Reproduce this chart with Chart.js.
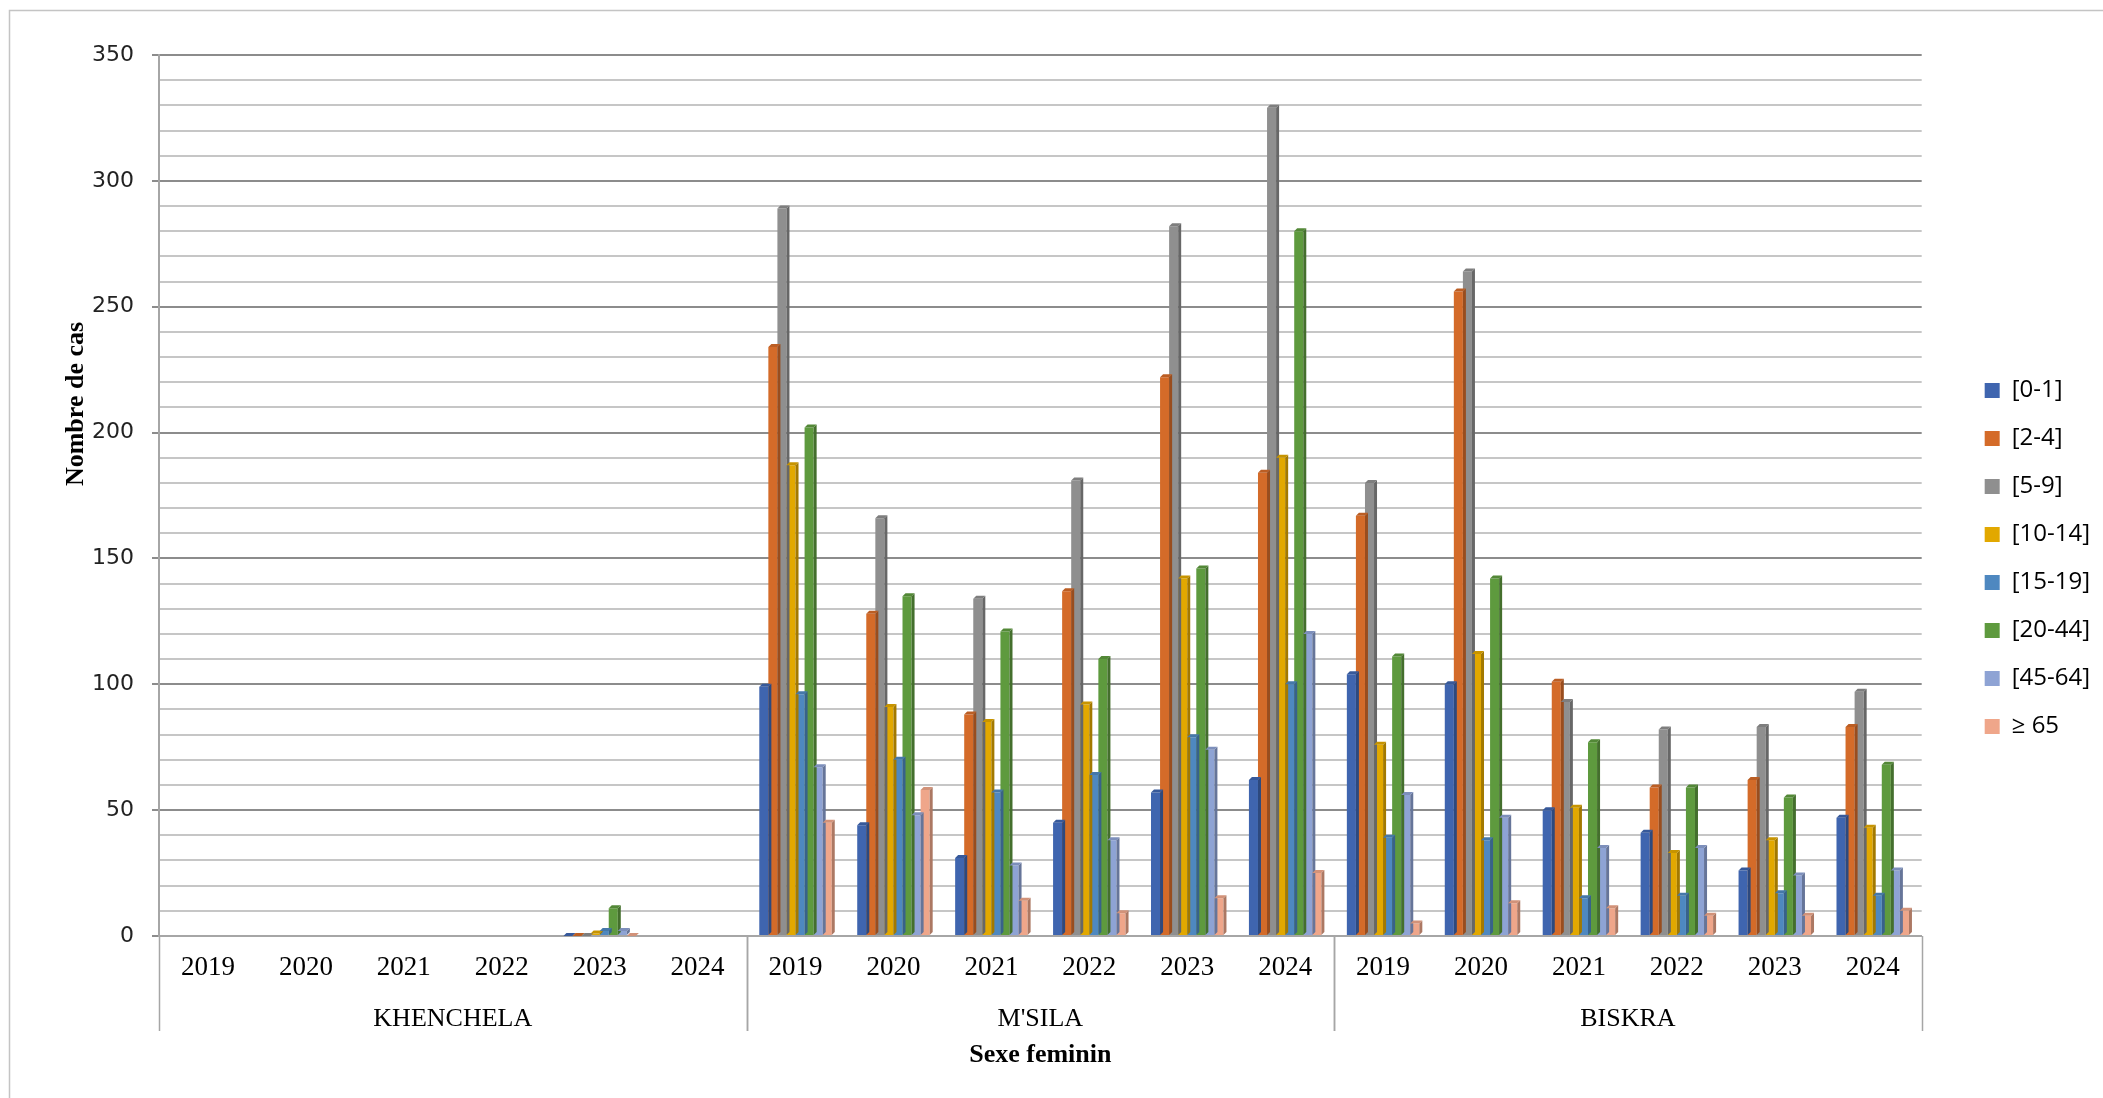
<!DOCTYPE html>
<html>
<head>
<meta charset="utf-8">
<script src="https://cdn.jsdelivr.net/npm/chart.js@4/dist/chart.umd.min.js"></script>
<style>
  html, body { margin: 0; padding: 0; background: #fff; }
  #wrap { width: 2103px; height: 1098px; }
</style>
</head>
<body>
<div id="wrap"><canvas id="c" width="2103" height="1098"></canvas></div>
<script>
// Wilayas and years on the two-level category axis
const regions = ['KHENCHELA', "M'SILA", 'BISKRA'];
const years = ['2019', '2020', '2021', '2022', '2023', '2024'];

// Age groups
const ageGroups = ['[0-1]', '[2-4]', '[5-9]', '[10-14]', '[15-19]', '[20-44]', '[45-64]', '≥ 65'];

// Cases per age group: KHENCHELA 2019-2024, M'SILA 2019-2024, BISKRA 2019-2024
const age0_1   = [null, null, null, null, 0, null,   99, 44, 31, 45, 57, 62,    104, 100, 50, 41, 26, 47];
const age2_4   = [null, null, null, null, 0, null,   234, 128, 88, 137, 222, 184, 167, 256, 101, 59, 62, 83];
const age5_9   = [null, null, null, null, 0, null,   289, 166, 134, 181, 282, 329, 180, 264, 93, 82, 83, 97];
const age10_14 = [null, null, null, null, 1, null,   187, 91, 85, 92, 142, 190,   76, 112, 51, 33, 38, 43];
const age15_19 = [null, null, null, null, 2, null,   96, 70, 57, 64, 79, 100,     39, 38, 15, 16, 17, 16];
const age20_44 = [null, null, null, null, 11, null,  202, 135, 121, 110, 146, 280, 111, 142, 77, 59, 55, 68];
const age45_64 = [null, null, null, null, 2, null,   67, 48, 28, 38, 74, 120,     56, 47, 35, 35, 24, 26];
const age65    = [null, null, null, null, 0, null,   45, 58, 14, 9, 15, 25,       5, 13, 11, 8, 8, 10];

const seriesValues = [age0_1, age2_4, age5_9, age10_14, age15_19, age20_44, age45_64, age65];
const seriesColors = ['#3F65AF', '#D46B29', '#8F8F8F', '#E2A800', '#4E88C0', '#5E9A3E', '#8EA3D4', '#EFA68A'];

const yTitle = 'Nombre de cas';
const xTitle = 'Sexe feminin';

const categoryLabels = regions.flatMap(() => years);
const serif = '"Liberation Serif", "Times New Roman", serif';

function shade(hex, f) {
  const n = parseInt(hex.slice(1), 16);
  const r = Math.round(((n >> 16) & 255) * f);
  const g = Math.round(((n >> 8) & 255) * f);
  const b = Math.round((n & 255) * f);
  return `rgb(${Math.min(r,255)},${Math.min(g,255)},${Math.min(b,255)})`;
}

// Thin outer frame of the chart object
const frame = {
  id: 'frame',
  beforeDraw(chart) {
    const ctx = chart.ctx;
    ctx.save();
    ctx.strokeStyle = '#c4c4c4';
    ctx.lineWidth = 1.5;
    ctx.strokeRect(9.5, 10.5, 2400, 1400);
    ctx.restore();
  }
};

// Side and top faces giving the columns a little depth
const depth = {
  id: 'depth',
  afterDatasetsDraw(chart) {
    const ctx = chart.ctx;
    const d = 3;
    ctx.save();
    chart.data.datasets.forEach((ds, di) => {
      const meta = chart.getDatasetMeta(di);
      meta.data.forEach((el, i) => {
        if (ds.data[i] === null || ds.data[i] === undefined) return;
        const p = el.getProps(['x', 'y', 'base', 'width'], true);
        if (!isFinite(p.y)) return;
        const l = p.x - p.width / 2, r = p.x + p.width / 2;
        ctx.fillStyle = shade(ds.backgroundColor, 0.72);
        ctx.beginPath();
        ctx.moveTo(r, p.y); ctx.lineTo(r + d, p.y - d);
        ctx.lineTo(r + d, p.base - d); ctx.lineTo(r, p.base);
        ctx.closePath(); ctx.fill();
        ctx.fillStyle = shade(ds.backgroundColor, 0.88);
        ctx.beginPath();
        ctx.moveTo(l, p.y); ctx.lineTo(l + d, p.y - d);
        ctx.lineTo(r + d, p.y - d); ctx.lineTo(r, p.y);
        ctx.closePath(); ctx.fill();
      });
    });
    ctx.restore();
  }
};

// Second level of the category axis (wilaya names, separators) and the value-axis title
const groupAxis = {
  id: 'groupAxis',
  afterDraw(chart) {
    const xs = chart.scales.x;
    const ctx = chart.ctx;
    const bottom = chart.chartArea.bottom;
    const catW = xs.width / categoryLabels.length;
    ctx.save();
    ctx.strokeStyle = '#a6a6a6';
    ctx.lineWidth = 1.5;
    ctx.fillStyle = '#000';
    ctx.font = '26px ' + serif;
    ctx.textAlign = 'center';
    ctx.textBaseline = 'middle';
    regions.forEach((name, i) => {
      const first = i * years.length;
      const last = first + years.length - 1;
      const left = xs.getPixelForValue(first) - catW / 2;
      const right = xs.getPixelForValue(last) + catW / 2;
      [left, right].forEach(x => {
        ctx.beginPath();
        ctx.moveTo(Math.round(x) + 0.5, bottom);
        ctx.lineTo(Math.round(x) + 0.5, bottom + 95);
        ctx.stroke();
      });
      ctx.fillText(name, (left + right) / 2, bottom + 83);
    });
    ctx.font = 'bold 26px ' + serif;
    ctx.translate(76, 404);
    ctx.rotate(-Math.PI / 2);
    ctx.fillText(yTitle, 0, 0);
    ctx.restore();
  }
};

const chart = new Chart(document.getElementById('c'), {
  type: 'bar',
  data: {
    labels: categoryLabels,
    datasets: ageGroups.map((g, i) => ({
      label: g,
      data: seriesValues[i],
      backgroundColor: seriesColors[i],
      borderWidth: 0,
      categoryPercentage: 0.74,
      barPercentage: 1.0
    }))
  },
  options: {
    responsive: false,
    animation: false,
    layout: { padding: { top: 55, left: 10, right: 3, bottom: 36 } },
    plugins: {
      legend: {
        position: 'right',
        align: 'center',
        labels: {
          boxWidth: 15,
          boxHeight: 15,
          padding: 24,
          color: '#000',
          font: { family: '"Open Sans", sans-serif', size: 24 }
        }
      },
      tooltip: { enabled: false }
    },
    scales: {
      x: {
        type: 'category',
        grid: { display: false, drawTicks: false },
        border: { color: '#a6a6a6', width: 2 },
        ticks: {
          color: '#000',
          padding: 16,
          maxRotation: 0,
          autoSkip: false,
          font: { family: serif, size: 27 }
        },
        title: {
          display: true,
          text: xTitle,
          color: '#000',
          font: { family: serif, size: 26, weight: 'bold' },
          padding: { top: 0, bottom: -8.6 }
        },
        afterFit(s) { s.height = 126; }
      },
      y: {
        min: 0,
        max: 350,
        ticks: {
          stepSize: 10,
          autoSkip: false,
          padding: 18,
          color: '#222',
          font: { family: '"DejaVu Sans", sans-serif', size: 22 },
          callback: v => (v % 50 === 0 ? v : '')
        },
        grid: {
          color: c => (c.tick && c.tick.value % 50 === 0 ? '#8c8c8c' : '#c6c6c6'),
          tickColor: c => (c.tick && c.tick.value % 50 === 0 ? '#8c8c8c' : 'rgba(0,0,0,0)'),
          lineWidth: 2,
          tickLength: 7
        },
        border: { color: '#a6a6a6', width: 2 },
        title: { display: false },
        afterFit(s) { s.width = 149; }
      },
      spacer: {
        type: 'linear',
        position: 'right',
        display: true,
        grid: { display: false, drawTicks: false },
        border: { display: false },
        ticks: { display: false },
        afterFit(s) { s.width = 39; }
      }
    }
  },
  plugins: [frame, depth, groupAxis]
});
</script>
</body>
</html>
